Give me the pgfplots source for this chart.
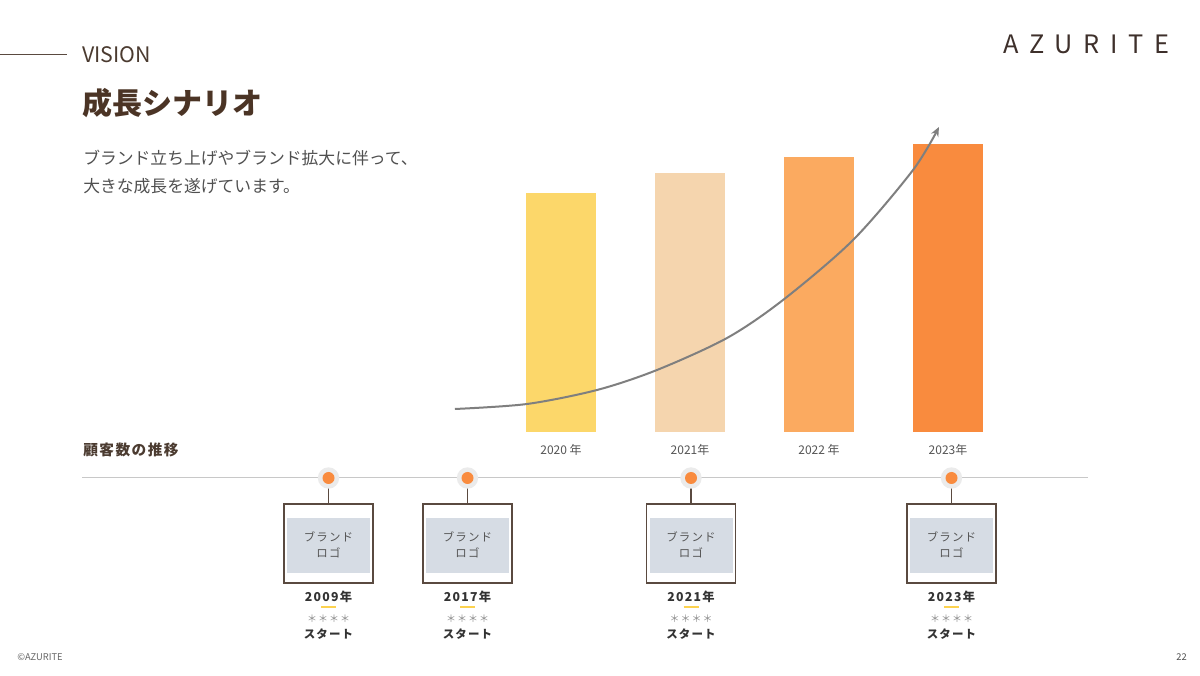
\documentclass[border=0pt]{standalone}
\usepackage{pgfplots}
\pgfplotsset{compat=1.18}
\usetikzlibrary{arrows.meta}
\usepackage{fontspec}
\setmainfont{Noto Sans CJK JP}
\newfontfamily\logofont[LetterSpace=42]{Noto Sans CJK JP}
\newfontfamily\spacedfont[LetterSpace=10]{Noto Sans CJK JP}

\definecolor{inkbrown}{HTML}{4B3425}
\definecolor{headbrown}{HTML}{4B3B30}
\definecolor{logobrown}{HTML}{3E302B}
\definecolor{bodygray}{HTML}{505050}
\definecolor{labelgray}{HTML}{555555}
\definecolor{rulegray}{HTML}{C8C8C8}
\definecolor{boxline}{HTML}{5A4A40}
\definecolor{logofill}{HTML}{D6DCE4}
\definecolor{halo}{HTML}{EBEBEB}
\definecolor{dotorange}{HTML}{F98B3E}
\definecolor{dashyellow}{HTML}{FCD24F}
\definecolor{bar20}{HTML}{FCD76A}
\definecolor{bar21}{HTML}{F5D5AE}
\definecolor{bar22}{HTML}{FBAA60}
\definecolor{bar23}{HTML}{F98B3E}
\definecolor{curvegray}{HTML}{7F7F7F}

\begin{document}
\begin{tikzpicture}[x=0.75pt,y=0.75pt]
% slide canvas: 1200 x 675 px, drawn from the top-left corner downwards
\begin{scope}[y=-0.75pt, yshift=506.25pt]
\path[use as bounding box, fill=white] (0,0) rectangle (1200,675);

% header
\draw[boxline, line width=0.75pt] (0,55) -- (67,55);
\node[anchor=west, inner sep=0, text=headbrown, font=\fontsize{16}{18}\selectfont] at (82,55) {VISION};
\node[anchor=west, inner sep=0, text=logobrown, font=\logofont\fontsize{19}{22}\selectfont] at (1003,44) {AZURITE};
\node[anchor=west, inner sep=0, text=inkbrown, font=\fontsize{22.5}{26}\selectfont\bfseries] at (82,103) {成長シナリオ};
\node[anchor=west, inner sep=0, text=bodygray, font=\fontsize{12.6}{15}\selectfont] at (83,158) {ブランド立ち上げやブランド拡大に伴って、};
\node[anchor=west, inner sep=0, text=bodygray, font=\fontsize{12.6}{15}\selectfont] at (83,186) {大きな成長を遂げています。};

% timeline
\node[anchor=west, inner sep=0, text=headbrown, font=\spacedfont\fontsize{11}{13}\selectfont\bfseries] at (83,450) {顧客数の推移};
\draw[rulegray, line width=0.75pt] (82,478) -- (1088,478);

\foreach \cx/\yr in {328.5/2009, 467.5/2017, 691/2021, 951.5/2023} {
  \draw[boxline, line width=0.9pt] (\cx,478) -- (\cx,504);
  \fill[halo] (\cx,478) circle[radius=8pt];
  \fill[dotorange] (\cx,478) circle[radius=4.5pt];
  \draw[boxline, line width=0.9pt, fill=white] (\cx-44.5,504) rectangle (\cx+44.5,583);
  \fill[logofill] (\cx-41.5,518) rectangle (\cx+41.5,573);
  \node[inner sep=0, text=labelgray, font=\spacedfont\fontsize{8.6}{10}\selectfont] at (\cx,537) {ブランド};
  \node[inner sep=0, text=labelgray, font=\spacedfont\fontsize{8.6}{10}\selectfont] at (\cx,553) {ロゴ};
  \node[inner sep=0, text=black!80, font=\spacedfont\fontsize{9.2}{10}\selectfont\bfseries] at (\cx,597) {\yr 年};
  \draw[dashyellow, line width=1.5pt] (\cx-7.5,607) -- (\cx+7.5,607);
  \node[inner sep=0, text=black!45, font=\spacedfont\fontsize{7.5}{9}\selectfont] at (\cx,619) {＊＊＊＊};
  \node[inner sep=0, text=black!80, font=\spacedfont\fontsize{8.6}{10}\selectfont\bfseries] at (\cx,634) {スタート};
}

% footer
\node[anchor=west, inner sep=0, text=black!60, font=\fontsize{7}{8}\selectfont] at (17,657) {©AZURITE};
\node[anchor=east, inner sep=0, text=black!70, font=\fontsize{7}{8}\selectfont] at (1187,657) {22};
\end{scope}

% customer growth bars: axis box from x = 496.5 px, baseline 432 px from the top
\begin{axis}[
  at={(372.375pt,182.25pt)}, anchor=south west,
  scale only axis, width=387pt, height=225pt,
  xmin=-0.5, xmax=3.5, ymin=0, ymax=300,
  clip=false,
  axis line style={draw=none},
  major tick style={draw=none},
  ytick=\empty,
  xtick={0,1,2,3},
  xticklabels={2020 年,2021年,2022 年,2023年},
  xticklabel style={anchor=center, yshift=-13.5pt, text=labelgray,
    font=\fontsize{9}{10}\selectfont},
]
\addplot[ybar, bar width=52.5pt, bar shift=0pt, fill=bar20, draw=none] coordinates {(0,239)};
\addplot[ybar, bar width=52.5pt, bar shift=0pt, fill=bar21, draw=none] coordinates {(1,259)};
\addplot[ybar, bar width=52.5pt, bar shift=0pt, fill=bar22, draw=none] coordinates {(2,275)};
\addplot[ybar, bar width=52.5pt, bar shift=0pt, fill=bar23, draw=none] coordinates {(3,288)};
% growth trend arrow
\addplot[smooth, curvegray, line width=1.5pt, mark=none,
  -{Stealth[length=7pt,width=6pt]}] coordinates {
  (-0.822,23) (-0.264,28) (0.279,42) (0.744,62) (1.287,94)
  (1.721,132) (2.264,192) (2.729,262) (2.930,305)};
\end{axis}
\end{tikzpicture}
\end{document}
